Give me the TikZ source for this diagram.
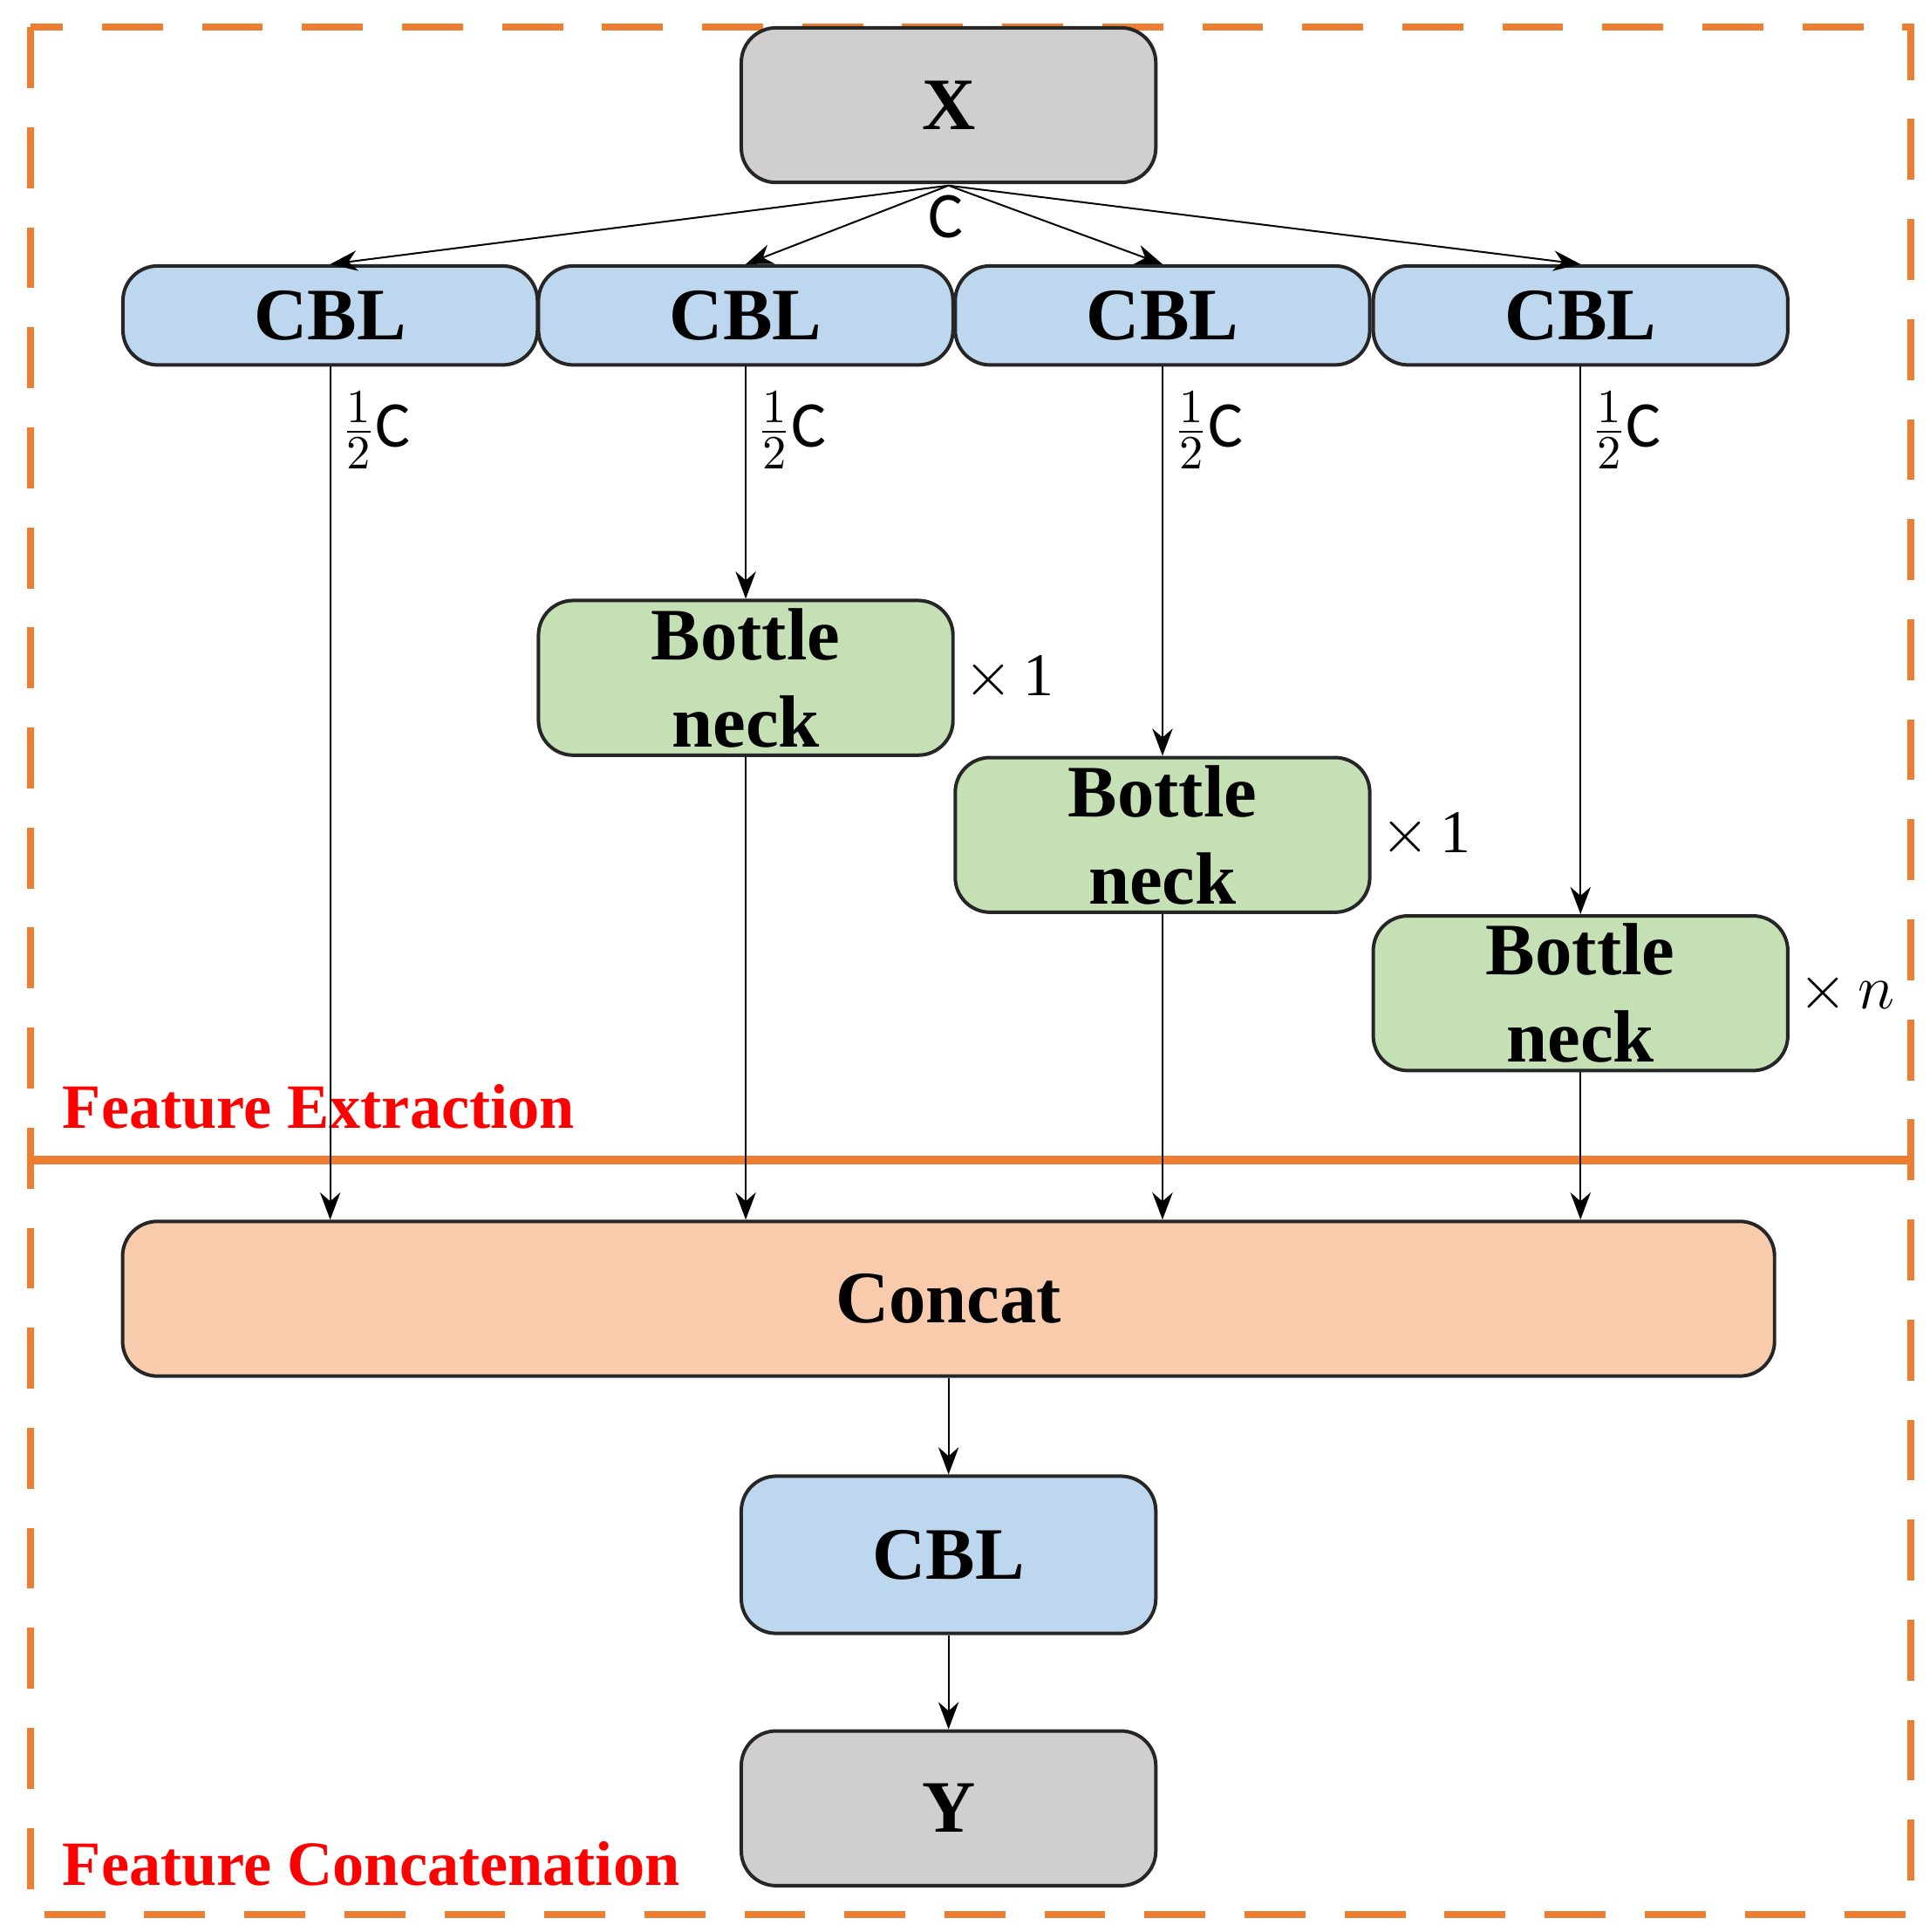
\documentclass[tikz,border=0pt]{standalone}
\usepackage{fontspec}
\setmainfont{Liberation Serif}
\newfontfamily\labelfont{Carlito}
\usetikzlibrary{arrows.meta}
\definecolor{cblblue}{RGB}{189,215,238}
\definecolor{bngreen}{RGB}{197,224,180}
\definecolor{catorange}{RGB}{248,203,173}
\definecolor{iogray}{RGB}{208,206,206}
\definecolor{frameorange}{RGB}{237,125,49}
\tikzset{
  blk/.style={draw=black!85,thick,rounded corners=8pt,font=\fontsize{17}{19}\selectfont\bfseries,align=center,inner sep=0pt},
  cbl/.style={blk,fill=cblblue,minimum width=3.35cm,minimum height=0.8cm},
  bneck/.style={blk,fill=bngreen,minimum width=3.35cm,minimum height=1.25cm,font=\fontsize{17}{20}\selectfont\bfseries},
  io/.style={blk,fill=iogray,minimum width=3.35cm,minimum height=1.25cm},
  arr/.style={-{Stealth[length=2.2mm]},thin},
  half/.style={font=\labelfont\fontsize{15}{16}\selectfont,anchor=west,inner sep=1pt},
  times/.style={font=\fontsize{14}{16}\selectfont,anchor=west,inner sep=2pt},
  region/.style={text=red,font=\fontsize{14.5}{17}\selectfont\bfseries,anchor=west,inner sep=0pt}
}
\begin{document}
\begin{tikzpicture}[x=0.01cm,y=-0.01cm]
  \useasboundingbox (0,0) rectangle (1560,1562);
  % frame
  \draw[frameorange,line width=1.6pt,dash pattern=on 14pt off 9pt] (25,22) rectangle (1545,1548);
  \draw[frameorange,line width=2pt] (25,938) -- (1545,938);
  \node[region] at (50,895) {Feature Extraction};
  \node[region] at (50,1507) {Feature Concatenation};
  % blocks
  \node[io] (x) at (767,85) {X};
  \coordinate (split) at (767,150);
  \node[font=\labelfont\fontsize{15}{16}\selectfont] at (765,175) {C};
  \foreach \i/\px in {1/267,2/603,3/940,4/1278}{
    \node[cbl] (cbl\i) at (\px,255) {CBL};
    \draw[arr] (split) -- (cbl\i.north);
    \node[half] at (\px+5,348) {$\frac{1}{2}$C};
  }
  \node[bneck] (bn2) at (603,548) {Bottle\\neck};
  \node[bneck] (bn3) at (940,675) {Bottle\\neck};
  \node[bneck] (bn4) at (1278,803) {Bottle\\neck};
  \node[times] at (bn2.east) {$\times$\,1};
  \node[times] at (bn3.east) {$\times$\,1};
  \node[times] at (bn4.east) {$\times$\,$n$};
  \node[blk,fill=catorange,minimum width=13.35cm,minimum height=1.25cm] (cat) at (767,1050) {Concat};
  \node[cbl,minimum height=1.27cm] (cblout) at (767,1257) {CBL};
  \node[io] (y) at (767,1462) {Y};
  % connectors
  \draw[arr] (cbl1.south) -- (cbl1.south |- cat.north);
  \draw[arr] (cbl2.south) -- (bn2.north);
  \draw[arr] (cbl3.south) -- (bn3.north);
  \draw[arr] (cbl4.south) -- (bn4.north);
  \draw[arr] (bn2.south) -- (bn2.south |- cat.north);
  \draw[arr] (bn3.south) -- (bn3.south |- cat.north);
  \draw[arr] (bn4.south) -- (bn4.south |- cat.north);
  \draw[arr] (cat.south) -- (cblout.north);
  \draw[arr] (cblout.south) -- (y.north);
\end{tikzpicture}
\end{document}
